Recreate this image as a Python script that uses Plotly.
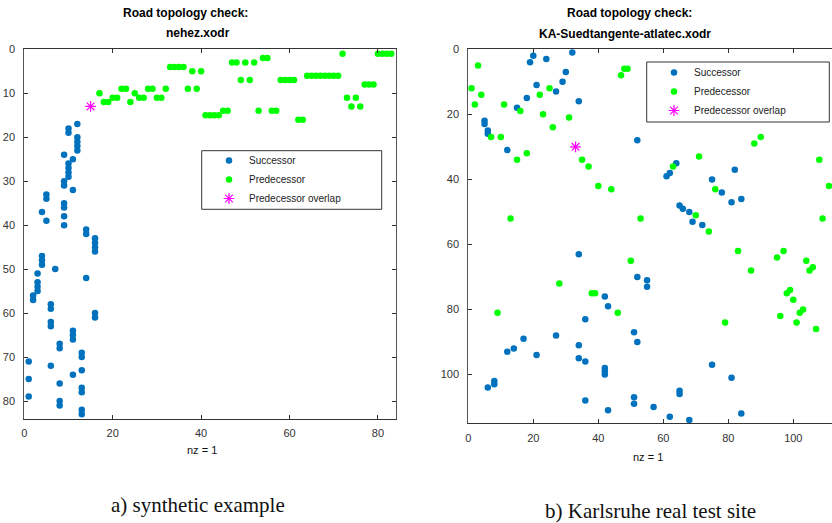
import plotly.graph_objects as go

W, H = 832, 523

# ---------------- data: a) synthetic example (nehez.xodr) ----------------
syn_succ_x = [12, 10, 10, 12, 12, 12, 12, 9, 11, 10, 10, 10, 10, 9, 9, 11, 5, 5, 9, 9,
              4, 9, 5, 9, 14, 14, 16, 16, 16, 16, 4, 4, 4, 7, 3, 14, 3, 3, 3, 2,
              2, 6, 6, 16, 16, 6, 6, 11, 11, 11, 8, 8, 13, 13, 1, 6, 13, 11, 1, 8,
              13, 13, 1, 8, 8, 13, 13]
syn_succ_y = list(range(17, 84))

syn_pred_x = list(range(17, 84))
syn_pred_y = [10, 12, 12, 11, 11, 9, 9, 12, 10, 11, 11, 9, 9, 11, 11, 9, 4, 4, 4, 4,
              9, 5, 9, 5, 15, 15, 15, 15, 14, 14, 3, 3, 7, 3, 7, 3, 14, 2, 2, 14,
              14, 7, 7, 7, 7, 16, 16, 6, 6, 6, 6, 6, 6, 6, 6, 1, 11, 13, 11, 13,
              8, 8, 8, 1, 1, 1, 1]

syn_overlap_x = [15]
syn_overlap_y = [13]

# ---------------- data: b) Karlsruhe real test site ----------------
ka_succ_x = [20, 19, 24, 32, 30, 29, 21, 27, 18, 15, 34, 5, 5, 6, 6, 12, 52, 64, 62, 61,
             82, 75, 78, 81, 84, 65, 66, 68, 69, 72, 52, 55, 55, 51, 52, 75, 81, 51, 51, 57,
             65, 65, 62, 68, 84, 34, 42, 43, 36, 27, 17, 12, 14, 21, 34, 34, 36, 42, 42, 42,
             8, 8, 6, 36, 43]
ka_succ_y = [2, 4, 3, 1, 7, 10, 11, 13, 15, 18, 16, 22, 23, 25, 26, 31, 28, 35, 38, 39,
             37, 40, 44, 47, 46, 48, 49, 50, 53, 54, 70, 71, 73, 87, 90, 97, 101, 107, 109, 110,
             105, 106, 113, 114, 112, 63, 76, 79, 83, 88, 89, 93, 92, 94, 91, 95, 96, 98, 99, 100,
             102, 103, 104, 108, 111]

ka_pred_x = [1, 3, 2, 4, 7, 10, 11, 15, 16, 18, 22, 23, 25, 26, 31, 35, 37, 40, 44, 13,
             47, 48, 49, 90, 88, 71, 63, 108, 111, 112, 76, 70, 53, 109, 74, 83, 97, 95, 50, 87,
             104, 106, 105, 99, 98, 100, 103, 102, 96, 101, 107, 79, 46, 28, 38, 39, 9]
ka_pred_y = [12, 5, 17, 14, 27, 27, 17, 34, 19, 32, 14, 20, 12, 24, 21, 34, 36, 42, 43, 52,
             8, 6, 6, 27, 29, 33, 36, 34, 42, 43, 43, 51, 52, 52, 56, 62, 62, 64, 65, 68,
             65, 67, 68, 74, 75, 77, 80, 81, 82, 84, 86, 84, 81, 72, 75, 75, 81]

ka_overlap_x = [33]
ka_overlap_y = [30]

# ---------------- tick labels ----------------
syn_xticks = [0, 20, 40, 60, 80]
syn_yticks = [0, 10, 20, 30, 40, 50, 60, 70, 80]
ka_xticks = [0, 20, 40, 60, 80, 100]
ka_yticks = [0, 20, 40, 60, 80, 100]

BLUE = "#0072BD"
GREEN = "#00FF00"
MAGENTA = "#FF00FF"
SANS = "Liberation Sans, Arial, sans-serif"
SERIF = "Liberation Serif, Times New Roman, serif"


def px(x):
    return x / W


def py(y):
    return 1 - y / H


fig = go.Figure()


def add_set(sx, sy, px_, py_, ox, oy, xa, ya, leg, clip):
    fig.add_trace(go.Scatter(x=sx, y=sy, mode="markers", name="Successor",
                             marker=dict(color=BLUE, size=6.5), xaxis=xa, yaxis=ya,
                             legend=leg, cliponaxis=clip))
    fig.add_trace(go.Scatter(x=px_, y=py_, mode="markers", name="Predecessor",
                             marker=dict(color=GREEN, size=6.5), xaxis=xa, yaxis=ya,
                             legend=leg, cliponaxis=clip))
    fig.add_trace(go.Scatter(x=ox, y=oy, mode="markers", name="Predecessor overlap",
                             marker=dict(symbol="asterisk", size=9, color=MAGENTA,
                                         line=dict(color=MAGENTA, width=1.2)),
                             xaxis=xa, yaxis=ya, legend=leg, cliponaxis=clip))


add_set(syn_succ_x, syn_succ_y, syn_pred_x, syn_pred_y, syn_overlap_x, syn_overlap_y,
        "x", "y", "legend", True)
add_set(ka_succ_x, ka_succ_y, ka_pred_x, ka_pred_y, ka_overlap_x, ka_overlap_y,
        "x2", "y2", "legend2", False)

axis_common = dict(showgrid=False, zeroline=False, ticks="inside", ticklen=4,
                   tickwidth=1, tickcolor="#333", showline=True, linewidth=1,
                   automargin=False,
                   tickfont=dict(family=SANS, size=11, color="#333"))

fig.update_layout(
    width=W, height=H,
    margin=dict(l=0, r=0, t=0, b=0, pad=0),
    paper_bgcolor="white", plot_bgcolor="white",
    xaxis=dict(domain=[px(24.3), px(395.6)], range=[0, 84], tickvals=syn_xticks,
               anchor="y", mirror="ticks", linecolor="#333", ticklabelstandoff=4,
               **axis_common),
    yaxis=dict(domain=[py(418.6), py(49.3)], range=[84, 0], tickvals=syn_yticks,
               anchor="x", mirror="ticks", linecolor="#555", ticklabelstandoff=6,
               **axis_common),
    xaxis2=dict(domain=[px(468.3), 1.0], range=[0, (832 - 468.3) / 3.25], tickvals=ka_xticks,
                anchor="y2", mirror="ticks", linecolor="#333", ticklabelstandoff=4,
                **axis_common),
    yaxis2=dict(domain=[py(423.3), py(49.3)], range=[115, 0], tickvals=ka_yticks,
                anchor="x2", mirror=False, linecolor="#555", ticklabelstandoff=6,
                **axis_common),
    legend=dict(x=px(209), y=py(146), xanchor="left", yanchor="top",
                bgcolor="rgba(0,0,0,0)", borderwidth=0, itemwidth=30,
                font=dict(family=SANS, size=10, color="#222")),
    legend2=dict(x=px(654), y=py(58), xanchor="left", yanchor="top",
                 bgcolor="rgba(0,0,0,0)", borderwidth=0, itemwidth=30,
                 font=dict(family=SANS, size=10, color="#222")),
    shapes=[
        dict(type="rect", xref="paper", yref="paper", x0=px(201.7), x1=px(381.7),
             y0=py(209.3), y1=py(150.7), line=dict(color="#333", width=1)),
        dict(type="rect", xref="paper", yref="paper", x0=px(646.7), x1=px(829.3),
             y0=py(122), y1=py(62), line=dict(color="#333", width=1)),
    ],
)

annots = [
    ("Road topology check:", 185, 12.5, SANS, 12, True),
    ("nehez.xodr", 197.7, 33, SANS, 12, True),
    ("Road topology check:", 629.8, 12.5, SANS, 12, True),
    ("KA-Suedtangente-atlatec.xodr", 624.7, 34, SANS, 12, True),
    ("nz = 1", 202, 450, SANS, 11, False),
    ("nz = 1", 648, 456.7, SANS, 11, False),
    ("a) synthetic example", 197.5, 505, SERIF, 21, False),
    ("b) Karlsruhe real test site", 650, 511, SERIF, 21, False),
]
for text, x, y, fam, size, bold in annots:
    fig.add_annotation(text=f"<b>{text}</b>" if bold else text, xref="paper", yref="paper",
                       x=px(x), y=py(y), xanchor="center", yanchor="middle",
                       showarrow=False, font=dict(family=fam, size=size, color="#111" if not bold else "#000"))

fig.write_html("out.html")
